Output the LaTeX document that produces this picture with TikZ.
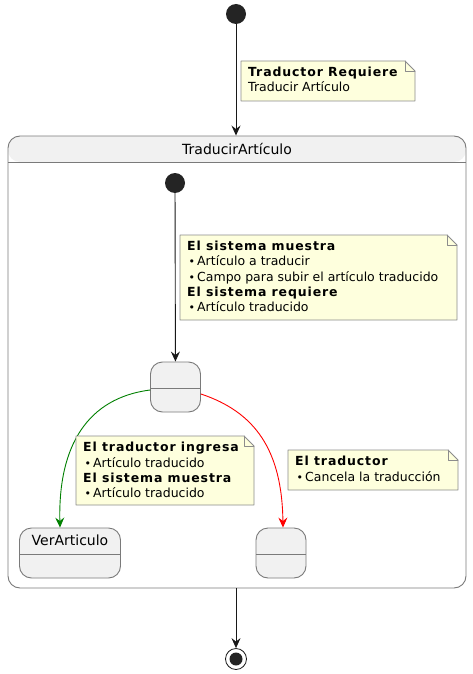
\documentclass[tikz,border=0pt]{standalone}
\usepackage{fontspec}
\setmainfont{DejaVu Sans}
\usepackage{xcolor}
\usepackage{tikz}
\usetikzlibrary{arrows.meta,backgrounds,positioning}
\definecolor{stInk}{HTML}{181818}
\definecolor{stLine}{HTML}{7A7A7A}
\definecolor{stFill}{HTML}{F1F1F1}
\definecolor{stNote}{HTML}{FEFFDD}
\definecolor{stNoteLine}{HTML}{8C8C8C}
\definecolor{stGo}{HTML}{008000}
\definecolor{stStop}{HTML}{FF0000}
\tikzset{
  st diagram/.style={x=1pt,y=-1pt, text=black, line cap=round, line join=round,
    font=\fontsize{14}{16}\selectfont},
  st head/.style={path picture={
      \fill[#1] (path picture bounding box.north west) rectangle ([yshift=-26pt]path picture bounding box.north east);
      \draw[stLine, line width=0.9pt] ([yshift=-26pt]path picture bounding box.north west) -- ([yshift=-26pt]path picture bounding box.north east);}},
  st box/.style={draw=stLine, fill=stFill, line width=0.9pt, rounded corners=12pt,
    minimum width=50pt, minimum height=50pt, inner sep=0pt, st head=stFill},
  st composite/.style={draw=stLine, fill=white, line width=0.9pt, rounded corners=12pt,
    minimum width=458pt, minimum height=452pt, inner sep=0pt, st head=stFill},
  st title/.style={anchor=center, yshift=-13pt},
  st start/.style={circle, fill=stInk!95, minimum size=20pt, inner sep=0pt},
  st end/.style={circle, draw=stInk, line width=0.8pt, minimum size=21pt, inner sep=0pt,
    path picture={\fill[stInk!95] (path picture bounding box.center) circle (6.5pt);}},
  st note/.style={anchor=north west, align=left, inner xsep=7pt, inner ysep=0pt,
    font=\fontsize{12.5}{15.3}\selectfont, text depth=0pt},
  st fold/.style={draw=stNoteLine, fill=stNote, line width=0.8pt},
  st arrow/.style={-{Stealth[length=10pt,width=9pt,inset=3.5pt]}, draw=stInk, line width=0.9pt},
  st go/.style={st arrow, draw=stGo, -{Stealth[length=10pt,width=9pt,inset=3.5pt,fill=stGo]}},
  st stop/.style={st arrow, draw=stStop, -{Stealth[length=10pt,width=9pt,inset=3.5pt,fill=stStop]}}
}
\newcommand{\notepaper}[5]{% name, x1, y1, x2, y2
  \draw[st fold] (#2,#5) -- (#2,#3) -- (#4-10,#3) -- (#4,#3+10) -- (#4,#5) -- cycle;
  \draw[st fold, fill=none] (#4-10,#3) -- (#4-10,#3+10) -- (#4,#3+10);
  \node[st note, minimum width=#4-#2, minimum height=#5-#3, text width=#4-#2-14pt] (#1) at (#2,#3) {};}
\newcommand{\nb}[1]{{\bfseries\addfontfeatures{LetterSpace=7}#1}}
\newcommand{\itm}{\hspace{1.5pt}{\fontsize{11}{11}\selectfont•}\hspace{2pt}}

\begin{document}
\begin{tikzpicture}[st diagram]
\useasboundingbox (0,0) rectangle (472,674);
% outer flow
\node[st start] (init) at (236,14) {};
\node[st composite, label={[st title]north:TraducirArtículo}] (traducir) at (237,362) {};
\node[st end] (fin) at (236,659) {};
\draw[st arrow] (init) -- (traducir.north -| init);
\draw[st arrow] (traducir.south -| fin) -- (fin);
% inner states
\node[st start] (initIn) at (175,183) {};
\node[st box] (espera) at (175.5,387) {};
\node[st box, minimum width=101pt, label={[st title]north:VerArticulo}] (ver) at (70,553) {};
\node[st box] (cancelado) at (281,553) {};
\draw[st arrow] (initIn) -- (espera);
\draw[st go] (espera.west |- 0,390) .. controls (88,398) and (58,445) .. (ver.north -| 60,0);
\draw[st stop] (espera.east |- 0,394) .. controls (255,412) and (282,450) .. (cancelado.north -| 283,0);
% notes
\notepaper{notaA}{241}{61}{415}{101}
\notepaper{notaB}{180}{235}{457}{320}
\notepaper{notaC}{76}{436}{254}{505}
\notepaper{notaD}{288}{450}{458}{490}
\node[st note] (txtA) at (241,67) {\nb{Traductor Requiere}\\Traducir Artículo};
\node[st note] (txtB) at (180,241) {\nb{El sistema muestra}\\\itm Artículo a traducir\\\itm Campo para subir el artículo traducido\\\nb{El sistema requiere}\\\itm Artículo traducido};
\node[st note] (txtC) at (76,442) {\nb{El traductor ingresa}\\\itm Artículo traducido\\\nb{El sistema muestra}\\\itm Artículo traducido};
\node[st note] (txtD) at (288,456) {\nb{El traductor}\\\itm Cancela la traducción};
\end{tikzpicture}
\end{document}
